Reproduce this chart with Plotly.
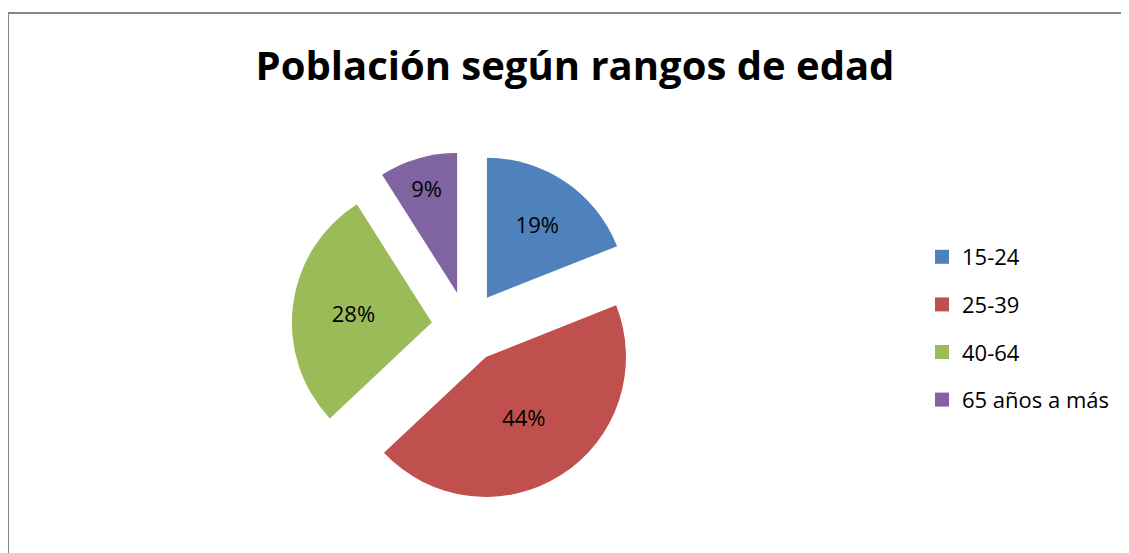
import plotly.graph_objects as go

# datos
rangos = ["15-24", "25-39", "40-64", "65 años a más"]
porcentajes = [19, 44, 28, 9]
colores = ["#4F81BD", "#C0504D", "#9BBB59", "#8064A2"]

W, H = 1129, 553
OFF = 8  # margen del body en la página
fuente = "Open Sans"


def px_x(v):
    return (v - OFF) / W


def px_y(v):
    return 1 - (v - OFF) / H


fig = go.Figure()

fig.add_trace(go.Pie(
    labels=rangos,
    values=porcentajes,
    marker=dict(colors=colores),
    sort=False,
    direction="clockwise",
    rotation=0,
    pull=[0.253] * 4,
    texttemplate="%{percent:.0%}",
    textposition="inside",
    insidetextorientation="horizontal",
    textfont=dict(family=fuente, size=22, color="#000000"),
    domain=dict(x=[px_x(291.6), px_x(642.4)], y=[px_y(502.4), px_y(151.6)]),
    showlegend=False,
    hoverinfo="label+percent",
))

# leyenda con separación amplia entre elementos
for r, c in zip(rangos, colores):
    fig.add_trace(go.Scatter(
        x=[None], y=[None], mode="markers", name=r,
        marker=dict(symbol="square", size=14, color=c),
        legendgroup=r, showlegend=True,
    ))

fig.update_layout(
    width=W, height=H,
    margin=dict(l=0, r=0, t=0, b=0),
    paper_bgcolor="white", plot_bgcolor="white",
    title=dict(
        text="<b>Población según rangos de edad</b>",
        x=px_x(575), xanchor="center",
        y=px_y(66), yanchor="middle",
        font=dict(family=fuente, size=40, color="#000000"),
    ),
    legend=dict(
        x=px_x(922), xanchor="left",
        y=px_y(236), yanchor="top",
        font=dict(family=fuente, size=22, color="#000000"),
        tracegroupgap=16,
        bgcolor="rgba(0,0,0,0)",
    ),
    xaxis=dict(visible=False),
    yaxis=dict(visible=False),
    shapes=[dict(
        type="rect", xref="paper", yref="paper",
        x0=px_x(8), x1=1.05, y0=-0.05, y1=px_y(13),
        line=dict(color="#868686", width=2),
    )],
)

fig.write_html("out.html")
